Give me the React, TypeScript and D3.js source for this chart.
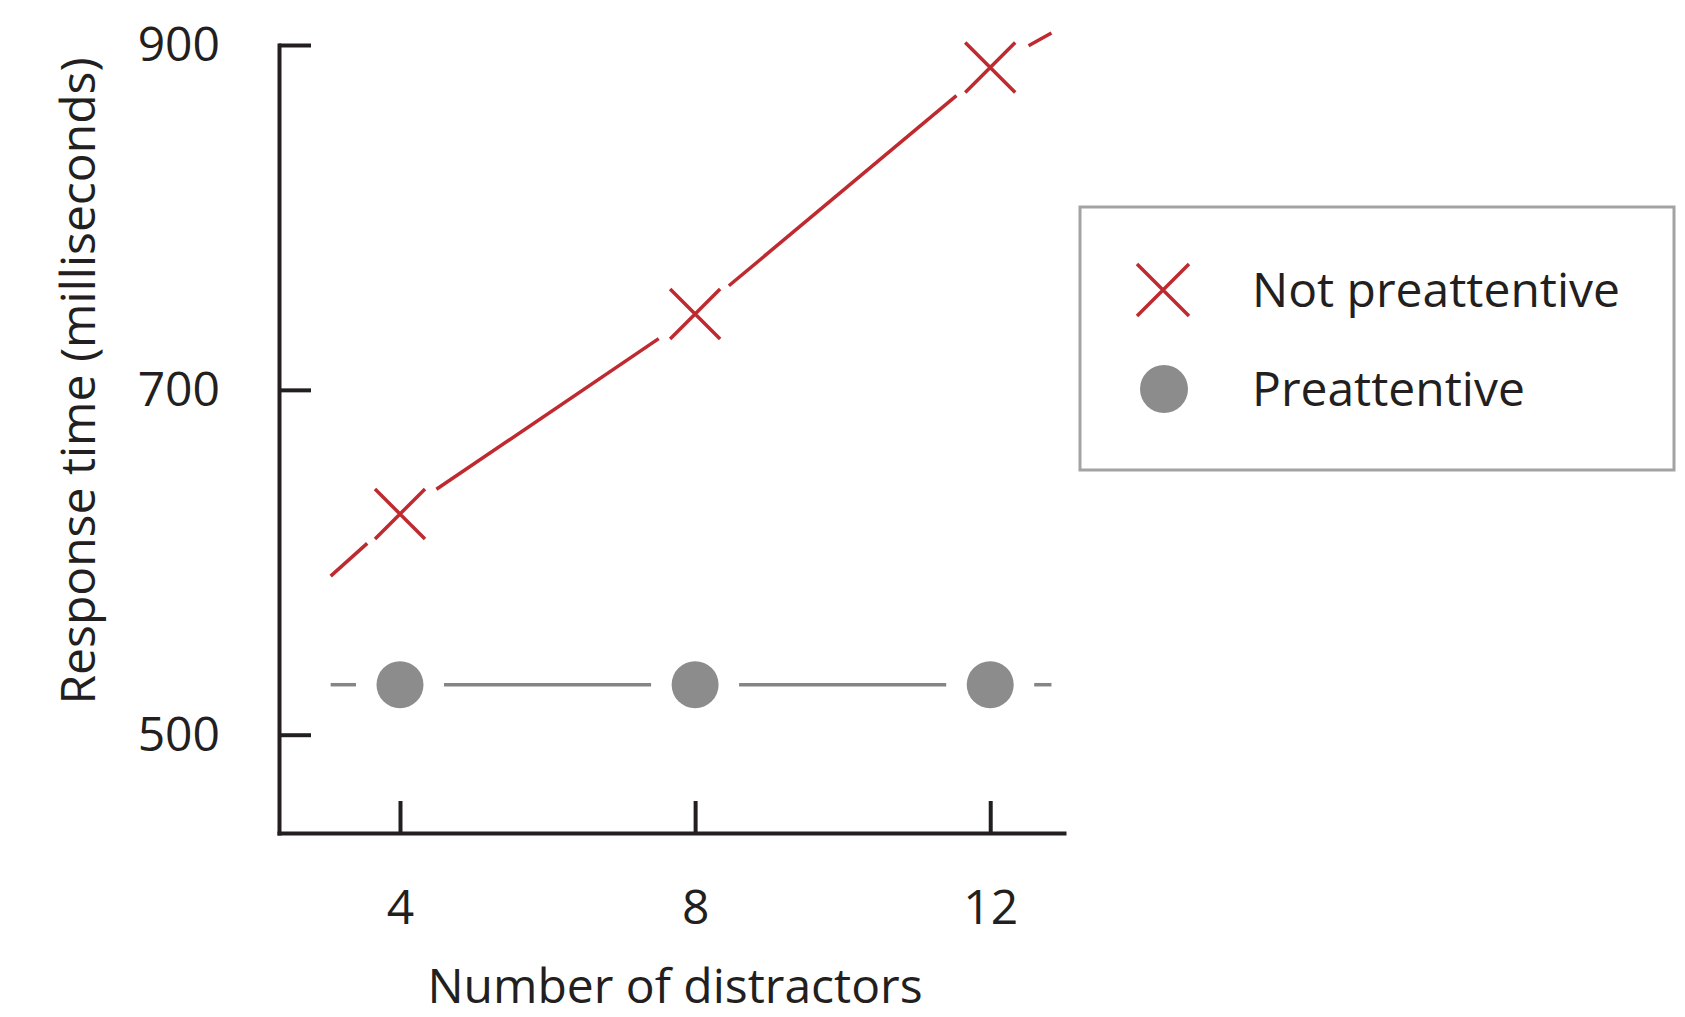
import React, { useEffect, useRef } from 'react';
import * as d3 from 'd3';

// values
const distractors = [4, 8, 12];
const notPreattentive = [628, 744, 887];
const preattentive = [529, 529, 529];
// the drawn lines run a little past the first and last point
const lineEnds = [3.06, 12.83];
const notPreattentiveEnds = [592, 907];
const preattentiveEnds = [529, 529];
const xTicks = [4, 8, 12];
const yTicks = [500, 700, 900];
const legendLabels = ['Not preattentive', 'Preattentive'];

const WIDTH = 1685;
const HEIGHT = 1017;
const RED = '#bf2a30';
const GRAY = '#8c8c8c';
const INK = '#231f20';
const FONT = '"Open Sans", "Noto Sans", sans-serif';

const App = () => {
  const svgRef = useRef(null);

  useEffect(() => {
    const svg = d3.select(svgRef.current);
    svg.selectAll('*').remove();

    const x = d3.scaleLinear().domain([2.36, 13]).range([279, 1064]);
    const y = d3.scaleLinear().domain([443, 900]).range([833, 45]);

    // Axes, ticks point inwards
    const xAxis = svg.append('g')
      .attr('transform', `translate(0, ${y(443)})`)
      .call(d3.axisBottom(x).tickValues(xTicks).tickSizeInner(-32).tickSizeOuter(0).tickPadding(57));

    const yAxis = svg.append('g')
      .attr('transform', `translate(${x(2.36)}, 0)`)
      .call(d3.axisLeft(y).tickValues(yTicks).tickSizeInner(-32).tickSizeOuter(0).tickPadding(59));

    [xAxis, yAxis].forEach(g => {
      g.attr('font-family', FONT).attr('font-size', 48);
      g.select('.domain').attr('stroke', INK).attr('stroke-width', 4).attr('stroke-linecap', 'square');
      g.selectAll('.tick line').attr('stroke', INK).attr('stroke-width', 4);
      g.selectAll('.tick text').attr('fill', INK);
    });

    // Axis titles
    svg.append('text')
      .attr('x', 675)
      .attr('y', 1003)
      .attr('text-anchor', 'middle')
      .attr('font-family', FONT)
      .attr('font-size', 48)
      .attr('fill', INK)
      .text('Number of distractors');

    svg.append('text')
      .attr('transform', 'translate(95, 381) rotate(-90)')
      .attr('text-anchor', 'middle')
      .attr('font-family', FONT)
      .attr('font-size', 48)
      .attr('fill', INK)
      .text('Response time (milliseconds)');

    // Lines broken around each marker
    const GAP = 44;
    const line = d3.line();
    const drawSeries = (values, endValues, color, width) => {
      const pts = [
        { px: x(lineEnds[0]), py: y(endValues[0]), marker: false },
        ...distractors.map((d, i) => ({ px: x(d), py: y(values[i]), marker: true })),
        { px: x(lineEnds[1]), py: y(endValues[1]), marker: false }
      ];
      for (let i = 0; i < pts.length - 1; i++) {
        const a = pts[i];
        const b = pts[i + 1];
        const len = Math.hypot(b.px - a.px, b.py - a.py);
        const ux = (b.px - a.px) / len;
        const uy = (b.py - a.py) / len;
        const s = a.marker ? GAP : 0;
        const e = b.marker ? GAP : 0;
        if (len - s - e <= 0) continue;
        svg.append('path')
          .attr('d', line([[a.px + ux * s, a.py + uy * s], [b.px - ux * e, b.py - uy * e]]))
          .attr('fill', 'none')
          .attr('stroke', color)
          .attr('stroke-width', width);
      }
    };

    drawSeries(notPreattentive, notPreattentiveEnds, RED, 3.5);
    drawSeries(preattentive, preattentiveEnds, '#858585', 3.5);

    const drawCross = (g, cx, cy, r) => {
      g.append('path')
        .attr('d', `M${cx - r},${cy - r}L${cx + r},${cy + r}M${cx - r},${cy + r}L${cx + r},${cy - r}`)
        .attr('fill', 'none')
        .attr('stroke', RED)
        .attr('stroke-width', 3.5);
    };

    distractors.forEach((d, i) => drawCross(svg, x(d), y(notPreattentive[i]), 25));

    svg.selectAll('.dot')
      .data(distractors)
      .enter()
      .append('circle')
      .attr('class', 'dot')
      .attr('cx', d => x(d))
      .attr('cy', (d, i) => y(preattentive[i]))
      .attr('r', 23.5)
      .attr('fill', GRAY);

    // Legend
    const legend = svg.append('g');
    legend.append('rect')
      .attr('x', 1080)
      .attr('y', 207)
      .attr('width', 594)
      .attr('height', 263)
      .attr('fill', 'none')
      .attr('stroke', '#a3a3a3')
      .attr('stroke-width', 3);

    drawCross(legend, 1163, 290, 26);
    legend.append('circle')
      .attr('cx', 1164)
      .attr('cy', 389)
      .attr('r', 24)
      .attr('fill', GRAY);

    legendLabels.forEach((label, i) => {
      legend.append('text')
        .attr('x', 1252)
        .attr('y', 290 + i * 99)
        .attr('dy', '0.35em')
        .attr('font-family', FONT)
        .attr('font-size', 48)
        .attr('fill', INK)
        .text(label);
    });
  }, []);

  return (
    <svg
      ref={svgRef}
      width={WIDTH}
      height={HEIGHT}
      style={{ position: 'absolute', left: 0, top: 0, display: 'block', background: '#fff' }}
    />
  );
};

export default App;
